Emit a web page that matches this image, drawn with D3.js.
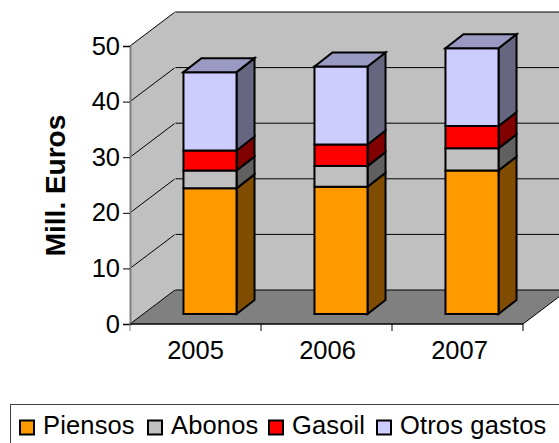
<!DOCTYPE html>
<html><head><meta charset="utf-8">
<script src="https://cdn.jsdelivr.net/npm/d3@7"></script>
<style>html,body{margin:0;padding:0;background:#fff;overflow:hidden}
text{font-family:"Liberation Sans",Arial,sans-serif;fill:#000}</style></head>
<body><svg id="c" width="559" height="443"></svg>
<script>
const categories = ["2005","2006","2007"];
const seriesNames = ["Piensos","Abonos","Gasoil","Otros gastos"];
const piensos = [22.6,22.9,25.8];
const abonos = [3.2,3.7,4.0];
const gasoil = [3.6,3.9,4.0];
const otros = [14.1,14.0,14.0];
const yTicks = [0,10,20,30,40,50];
const fronts = ["#ff9900","#c0c0c0","#ff0000","#ccccff"];
const sides = ["#804d00","#606060","#800000","#666680"];
const tops = ["#cc7a00","#9a9a9a","#cc0000","#9999c2"];

const svg = d3.select("#c");
const y = d3.scaleLinear().domain([0,50]).range([324,46]);
const x = d3.scaleBand().domain(categories).range([130,523]).paddingInner(0.595).paddingOuter(0.2975);
const wallDX = 45, wallDY = -34, barShiftX = 14.5, barShiftY = -10, barDX = 18, barDY = -14;
const pts = a => a.map(p=>p.join(",")).join(" ");
const y0 = y(0), y50 = y(50), xL = x.range()[0], xR = x.range()[1];

// walls and floor
svg.append("polygon").attr("points",pts([[xL,y0],[xL,y50],[xL+wallDX,y50+wallDY],[xL+wallDX,y0+wallDY]])).attr("fill","#c0c0c0");
svg.append("polygon").attr("points",pts([[xL+wallDX,y0+wallDY],[xL+wallDX,y50+wallDY],[xR+wallDX,y50+wallDY],[xR+wallDX,y0+wallDY]])).attr("fill","#c0c0c0");
svg.append("polygon").attr("points",pts([[xL,y0],[xL+wallDX,y0+wallDY],[xR+wallDX,y0+wallDY],[xR,y0]])).attr("fill","#808080");

// gridlines
yTicks.forEach(t=>{
  svg.append("polyline").attr("fill","none").attr("stroke","#000").attr("stroke-width",1)
    .attr("points",pts([[xL,y(t)],[xL+wallDX,y(t)+wallDY],[xR+wallDX,y(t)+wallDY]]));
});
svg.append("line").attr("x1",xL+wallDX).attr("x2",xL+wallDX).attr("y1",y0+wallDY).attr("y2",y50+wallDY).attr("stroke","#c0c0c0");
svg.append("line").attr("x1",xR).attr("y1",y0).attr("x2",xR+wallDX).attr("y2",y0+wallDY).attr("stroke","#000");

// axes
const gy = svg.append("g").attr("transform",`translate(${xL},0)`)
  .call(d3.axisLeft(y).tickValues(yTicks).tickSize(7).tickPadding(3));
gy.select(".domain").attr("stroke","#808080").attr("stroke-width",2);
gy.selectAll(".tick line").attr("stroke","#000");
gy.selectAll("text").style("font-size","25.5px").attr("fill","#000");
const gx = svg.append("g").attr("transform",`translate(0,${y0})`)
  .call(d3.axisBottom(x).tickSize(0).tickPadding(17));
gx.select(".domain").remove();
gx.selectAll("text").style("font-size","25.5px").attr("fill","#000").attr("dx",(d,i)=>i);
svg.append("line").attr("x1",xL).attr("x2",xR).attr("y1",y0).attr("y2",y0).attr("stroke","#000").attr("stroke-width",1.5);
d3.range(0,categories.length+1).forEach(i=>{
  const tx = xL + i*x.step();
  svg.append("line").attr("x1",tx).attr("x2",tx).attr("y1",y0).attr("y2",y0+7).attr("stroke",i===0?"#808080":"#000");
});

// bars
const stackData = [piensos,abonos,gasoil,otros];
categories.forEach((c,i)=>{
  let cum = 0;
  const xa = x(c)+barShiftX, xb = xa+x.bandwidth();
  stackData.forEach((vals,s)=>{
    const ya = y(cum)+barShiftY; cum += vals[i]; const yb = y(cum)+barShiftY;
    const st = {stroke:"#000","stroke-width":2,"stroke-linejoin":"miter"};
    const g = svg.append("g");
    const poly = (p,f)=>{const e=g.append("polygon").attr("points",pts(p)).attr("fill",f);Object.entries(st).forEach(([k,v])=>e.attr(k,v));};
    poly([[xb,ya],[xb+barDX,ya+barDY],[xb+barDX,yb+barDY],[xb,yb]],sides[s]);
    poly([[xa,yb],[xb,yb],[xb,ya],[xa,ya]],fronts[s]);
    if(s===3) poly([[xa,yb],[xa+barDX,yb+barDY],[xb+barDX,yb+barDY],[xb,yb]],tops[s]);
  });
});

// y title
svg.append("text").attr("transform","translate(55.5,185.5) rotate(-90)").attr("text-anchor","middle")
  .style("font-size","28px").style("font-weight","bold").text("Mill. Euros").attr("dy","0.35em");

// legend
svg.append("rect").attr("x",10.5).attr("y",404.5).attr("width",600).attr("height",60).attr("fill","#fff").attr("stroke","#404040");
const legendX = [20,148,269,377];
seriesNames.forEach((n,i)=>{
  svg.append("rect").attr("x",legendX[i]).attr("y",420.5).attr("width",14).attr("height",14).attr("fill",fronts[i]).attr("stroke","#000").attr("stroke-width",2);
  svg.append("text").attr("x",legendX[i]+23).attr("y",433.5).style("font-size","25.5px").style("letter-spacing","0.15px").text(n);
});
</script></body></html>
